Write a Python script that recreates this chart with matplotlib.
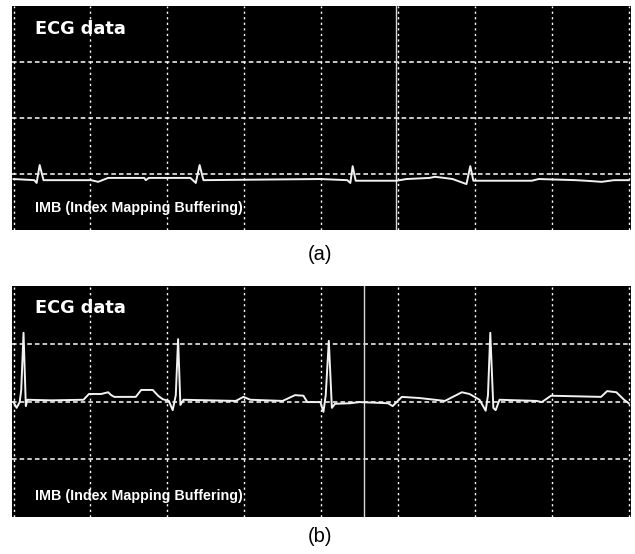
import matplotlib
matplotlib.use("Agg")
import matplotlib.pyplot as plt

# ---- data (grid-division units) ----
# panel (a): small-amplitude trace
a_t = [0.00, 0.27, 0.30, 0.34, 0.39, 1.01, 1.10, 1.23, 1.70, 1.72, 1.76, 2.30, 2.37, 2.42,
       2.47, 3.99, 4.34, 4.38, 4.41, 4.45, 4.98, 5.11, 5.41, 5.48, 5.60, 5.71, 5.89, 5.94,
       5.98, 6.74, 6.83, 7.31, 7.44, 7.65, 7.81, 8.00]
a_v = [0.91, 0.89, 0.84, 1.16, 0.89, 0.89, 0.86, 0.93, 0.93, 0.89, 0.93, 0.93, 0.84, 1.16,
       0.89, 0.91, 0.89, 0.84, 1.14, 0.88, 0.88, 0.91, 0.93, 0.95, 0.93, 0.91, 0.82, 1.14,
       0.88, 0.88, 0.91, 0.89, 0.88, 0.86, 0.89, 0.89]

# panel (b): full-amplitude trace
b_t = [0.00, 0.04, 0.08, 0.10, 0.13, 0.16, 0.18, 0.49, 0.91, 0.98, 1.14, 1.23, 1.27, 1.31,
       1.59, 1.66, 1.81, 1.88, 1.94, 2.02, 2.07, 2.11, 2.14, 2.17, 2.21, 2.89, 2.99, 3.08,
       3.50, 3.66, 3.77, 3.82, 3.99, 4.03, 4.06, 4.10, 4.14, 4.18, 4.38, 4.50, 4.87, 4.93,
       5.05, 5.28, 5.61, 5.83, 5.93, 6.06, 6.14, 6.17, 6.20, 6.24, 6.27, 6.32, 6.80, 6.87,
       6.99, 7.64, 7.72, 7.84, 7.94, 8.00]
b_v = [1.99, 1.89, 1.99, 2.20, 3.19, 1.92, 2.03, 2.02, 2.03, 2.13, 2.13, 2.16, 2.11, 2.08,
       2.08, 2.20, 2.20, 2.10, 2.04, 2.01, 1.85, 2.11, 3.08, 1.94, 2.03, 2.01, 2.08, 2.03,
       2.01, 2.11, 2.10, 1.99, 1.99, 1.82, 2.11, 3.05, 1.89, 1.96, 1.97, 1.99, 1.97, 1.92,
       2.08, 2.06, 2.01, 2.16, 2.13, 2.03, 1.84, 2.11, 3.19, 1.89, 1.85, 2.03, 2.01, 1.99,
       2.10, 2.08, 2.18, 2.16, 2.03, 1.97]

cursor_a = 4.97
cursor_b = 4.56

x_grid = [0, 1, 2, 3, 4, 5, 6, 7, 8]
y_grid = [1, 2, 3]

title_text = "ECG data"
sub_text = "IMB (Index Mapping Buffering)"
panel_labels = ["(a)", "(b)"]

fig = plt.figure(figsize=(6.35, 5.54), dpi=100)
fig.patch.set_facecolor("white")

ax_a = fig.add_axes([12/635, 1-230/554, 619/635, 224/554])
ax_b = fig.add_axes([12/635, 1-517/554, 619/635, 231/554])

for ax, t, v, cur, tb, ib, lab, ly in [
    (ax_a, a_t, a_v, cursor_a, 0.875, 0.080, panel_labels[0], 1-254.5/554),
    (ax_b, b_t, b_v, cursor_b, 0.883, 0.074, panel_labels[1], 1-536.5/554),
]:
    ax.set_facecolor("black")
    ax.set_xlim(-0.02, 8.03)
    ax.set_ylim(0, 4)
    for s in ax.spines.values():
        s.set_visible(False)
    ax.set_xticks([])
    ax.set_yticks([])
    for gx in x_grid:
        ax.axvline(gx, color="white", lw=1.0, ls=(0, (1.6, 2.4)), zorder=1)
    for gy in y_grid:
        ax.axhline(gy, color="white", lw=1.1, ls=(0, (3, 2)), zorder=1)
    ax.axvline(cur, color="#d8d8d8", lw=1.0, zorder=2)
    ax.plot(t, v, color="#f2f2f2", lw=1.4, zorder=3, solid_joinstyle="round")
    ax.text(23/619, tb, title_text, transform=ax.transAxes, color="white",
            fontsize=12.8, fontweight="bold", family="DejaVu Sans", va="baseline", ha="left")
    ax.text(23/619, ib, sub_text, transform=ax.transAxes, color="white",
            fontsize=10.3, fontweight="bold", family="Liberation Sans", va="baseline", ha="left")
    fig.text(320/635, ly, lab, ha="center", va="center", fontsize=14.5,
             family="Liberation Sans", color="black")

fig.savefig("out.png", dpi=100, facecolor="white")
